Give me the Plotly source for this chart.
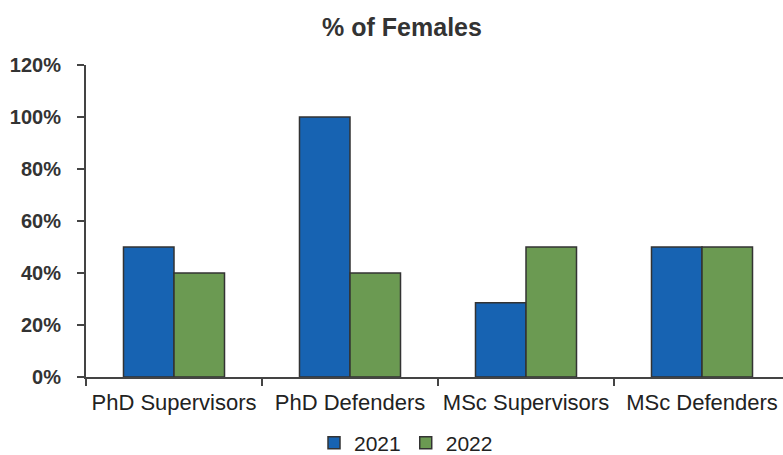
import plotly.graph_objects as go

categories = ["PhD Supervisors", "PhD Defenders", "MSc Supervisors", "MSc Defenders"]
values_2021 = [0.50, 1.00, 0.286, 0.50]
values_2022 = [0.40, 0.40, 0.50, 0.50]
series_names = ["2021", "2022"]
y_ticks = [0, 0.2, 0.4, 0.6, 0.8, 1.0, 1.2]

W, H = 783, 455
left, top, bottom = 86, 65, 78
cat_px = 176.0
plot_w = W - left
x_hi = -0.5 + plot_w / cat_px

fig = go.Figure()
fig.add_trace(go.Bar(
    x=categories, y=values_2021, name=series_names[0],
    marker=dict(color="#1763b2", line=dict(color="#333333", width=1.5)),
))
fig.add_trace(go.Bar(
    x=categories, y=values_2022, name=series_names[1],
    marker=dict(color="#6b9a52", line=dict(color="#333333", width=1.5)),
))

fig.update_layout(
    width=W, height=H,
    margin=dict(l=left, r=0, t=top, b=bottom, autoexpand=False),
    paper_bgcolor="white", plot_bgcolor="white",
    barmode="group", bargap=0.426, bargroupgap=0,
    title=dict(text="<b>% of Females</b>", x=402 / W, xanchor="center",
               y=1 - 27 / H, yanchor="middle",
               font=dict(family="Liberation Sans", size=25, color="#333333")),
    font=dict(family="Liberation Sans", color="#222222"),
    legend=dict(orientation="h", xref="container", yref="container",
                x=406 / W, xanchor="center",
                y=1 - 443 / H, yanchor="middle",
                font=dict(size=21, color="#222222"),
                tracegroupgap=0, itemwidth=30, traceorder="normal"),
    xaxis=dict(range=[-0.5, x_hi], tickson="boundaries", ticks="outside",
               ticklen=7, tickcolor="#444444", tickwidth=2,
               showline=True, linecolor="#444444", linewidth=2,
               tickfont=dict(size=22, color="#222222"), showgrid=False,
               tickangle=0, automargin=False, ticklabelstandoff=5),
    yaxis=dict(range=[0, 1.2], tickvals=y_ticks, tickformat=".0%",
               ticks="outside", ticklen=7, tickcolor="#444444", tickwidth=2,
               showline=True, linecolor="#444444", linewidth=2,
               showgrid=False, zeroline=False, ticklabelstandoff=12,
               automargin=False,
               tickfont=dict(size=20, color="#333333", weight="bold")),
)

fig.write_html("out.html")
